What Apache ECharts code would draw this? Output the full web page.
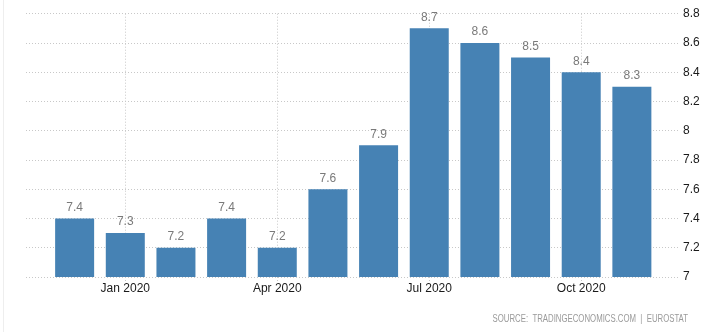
<!DOCTYPE html>
<html>
<head>
<meta charset="utf-8">
<style>
  html, body { margin: 0; padding: 0; background: #fff; }
  #chart { width: 708px; height: 332px; }
</style>
<script src="https://cdn.jsdelivr.net/npm/echarts@6/dist/echarts.min.js"></script>
</head>
<body>
<div id="chart"></div>
<script>
// Monthly rate, Dec 2019 – Nov 2020
const months = ['Dec 2019', 'Jan 2020', 'Feb 2020', 'Mar 2020', 'Apr 2020', 'May 2020',
                'Jun 2020', 'Jul 2020', 'Aug 2020', 'Sep 2020', 'Oct 2020', 'Nov 2020'];
const values = [7.4, 7.3, 7.2, 7.4, 7.2, 7.6, 7.9, 8.7, 8.6, 8.5, 8.4, 8.3];
const tickLabels = ['Jan 2020', 'Apr 2020', 'Jul 2020', 'Oct 2020'];
const sourceText = 'SOURCE:  TRADINGECONOMICS.COM  |  EUROSTAT';

const tickIndex = tickLabels.map(l => months.indexOf(l));
const FONT = '"Liberation Sans", Arial, sans-serif';
const GRID_COLOR = '#c8c8c8';

const chart = echarts.init(document.getElementById('chart'), null, { renderer: 'canvas' });

chart.setOption({
  animation: false,
  backgroundColor: '#fff',
  grid: { left: 26, right: 28, top: 13.7, bottom: 55 },
  xAxis: {
    type: 'value',
    min: -0.96,
    max: 11.95,
    axisLine: { show: false },
    axisTick: {
      show: true,
      customValues: tickIndex,
      length: 5,
      lineStyle: { color: GRID_COLOR, type: [1, 2] }
    },
    axisLabel: {
      customValues: tickIndex,
      formatter: v => months[Math.round(v)],
      margin: 6,
      color: '#1a1a1a',
      fontFamily: FONT,
      fontSize: 12
    },
    splitLine: {
      show: true,
      lineStyle: { color: GRID_COLOR, type: [1, 2] }
    }
  },
  yAxis: {
    type: 'value',
    position: 'right',
    min: 7,
    max: 8.8,
    interval: 0.2,
    axisLine: { show: false },
    axisTick: { show: false },
    axisLabel: {
      margin: 3,
      color: '#1a1a1a',
      fontFamily: FONT,
      fontSize: 12,
      formatter: v => String(Math.round(v * 10) / 10)
    },
    splitLine: {
      show: true,
      lineStyle: { color: GRID_COLOR, type: [1, 2] }
    }
  },
  series: [{
    type: 'bar',
    data: values.map((v, i) => [i, v]),
    barWidth: 39,
    itemStyle: { color: '#4682b4' },
    label: {
      show: true,
      position: 'top',
      distance: 5,
      color: '#7a7a7a',
      fontFamily: FONT,
      fontSize: 12,
      formatter: p => p.value[1].toFixed(1)
    }
  }],
  graphic: [
    {
      type: 'line',
      shape: { x1: 3.5, y1: 0, x2: 3.5, y2: 332 },
      style: { stroke: '#eeeeee', lineWidth: 1 },
      silent: true
    },
    {
      type: 'text',
      right: 20,
      top: 314,
      scaleX: 0.78,
      originX: 688,
      style: {
        text: sourceText,
        fill: '#9a9a9a',
        font: '10px ' + FONT
      },
      silent: true
    }
  ]
});
</script>
</body>
</html>
